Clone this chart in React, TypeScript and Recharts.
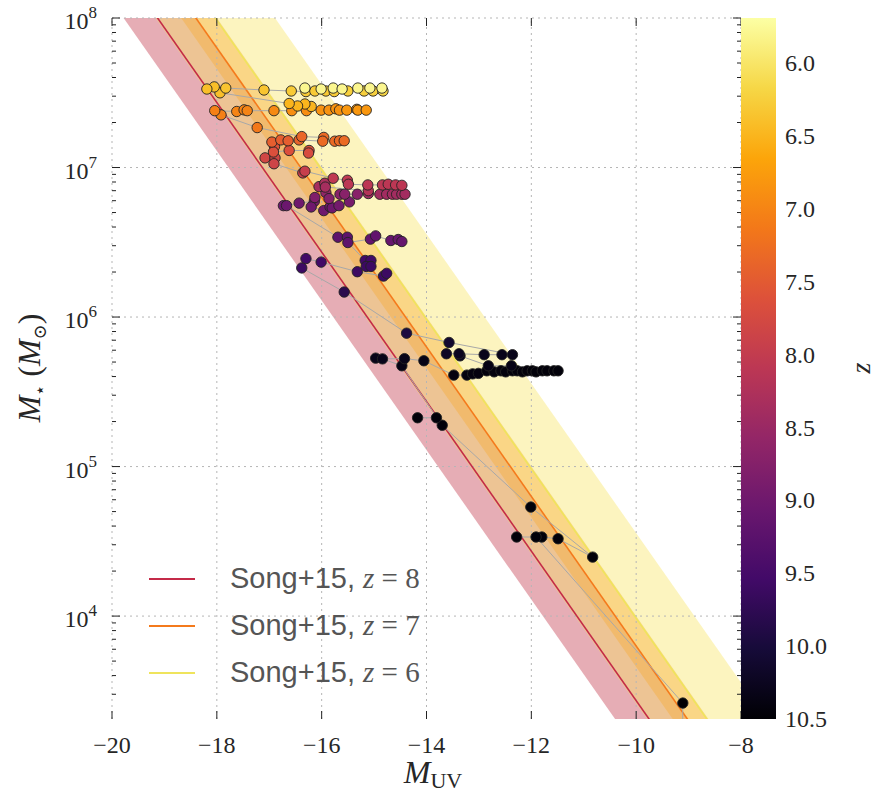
import React from 'react';
import { ComposedChart, XAxis, YAxis, Area, Line, Scatter, ReferenceLine, ReferenceArea, Legend, Label } from 'recharts';

const W = 878;
const H = 796;
const PL = 112;
const PR = 741;
const PT = 18;
const PB = 719;

const SERIF = '"Liberation Serif", "DejaVu Serif", serif';
const SANS = '"Liberation Sans", Arial, sans-serif';
const INK = '#262626';

const X_TICKS = [-20, -18, -16, -14, -12, -10, -8];
const Y_MIN = 2050;
const Y_MAX = 1e8;
const Y_DECADES = [1e3, 1e4, 1e5, 1e6, 1e7];
const Y_MULT = [1, 2, 3, 4, 5, 6, 7, 8, 9];
const Y_TICKS = [...Y_DECADES.flatMap((d) => Y_MULT.map((m) => m * d)), 1e8].filter((v) => v >= Y_MIN && v <= Y_MAX);
const Y_GRID = [1e4, 1e5, 1e6, 1e7, 1e8];

const Z_MIN = 5.69;
const Z_MAX = 10.5;
const Z_TICKS = [6.0, 6.5, 7.0, 7.5, 8.0, 8.5, 9.0, 9.5, 10.0, 10.5];

// inferno, dark -> light
const INFERNO = ['#000004', '#160b39', '#420a68', '#6a176e', '#932667', '#bc3754', '#dd513a', '#f37819', '#fca50a', '#f6d746', '#fcffa4'];

// Song+15 relations: edges read at M_UV = -20 and -8
const REL_X = [-20, -8];
const SONG8_LINE = [2.72e8, 272];
const SONG8_LO = [1.29e8, 129];
const SONG8_HI = [6.24e8, 624];
const SONG7_LINE = [6.31e8, 631];
const SONG7_LO = [4.57e8, 457];
const SONG7_HI = [1.0e9, 1.0e3];
const SONG6_LINE = [9.66e8, 966];
const SONG6_LO = [2.6e8, 260];
const SONG6_HI = [3.59e9, 3590];

// galaxy tracks: [M_UV, M*, z]
const TRACK_BLACK_TAIL = [[-9.11, 2.62e3, 10.5], [-9.12, 1.2e3, 10.5]];
const TRACK_BLACK_LOW = [[-12.01, 5.36e4, 10.45], [-10.83, 2.48e4, 10.45], [-11.49, 3.29e4, 10.45], [-11.8, 3.38e4, 10.45], [-11.91, 3.38e4, 10.45], [-12.28, 3.38e4, 10.45]];
const TRACK_BLACK_MID = [[-14.47, 4.72e5, 10.35], [-13.7, 1.89e5, 10.45], [-13.81, 2.12e5, 10.45], [-14.17, 2.12e5, 10.45]];
const TRACK_BLACK_ROW = [
  [-14.97, 5.31e5, 10.3], [-14.84, 5.25e5, 10.3], [-14.42, 5.27e5, 10.3], [-14.05, 5.1e5, 10.35], [-13.48, 4.09e5, 10.4],
  [-13.23, 4.09e5, 10.4], [-13.12, 4.17e5, 10.4], [-13.01, 4.2e5, 10.4], [-12.85, 4.37e5, 10.42], [-12.71, 4.3e5, 10.42],
  [-12.58, 4.37e5, 10.42], [-12.49, 4.3e5, 10.42], [-12.36, 4.37e5, 10.44], [-12.27, 4.37e5, 10.44], [-12.17, 4.3e5, 10.44],
  [-12.08, 4.37e5, 10.44], [-11.98, 4.37e5, 10.45], [-11.91, 4.3e5, 10.45], [-11.79, 4.37e5, 10.45], [-11.7, 4.37e5, 10.45],
  [-11.57, 4.37e5, 10.45], [-11.49, 4.37e5, 10.45],
];
const TRACK_BLACK_UP = [[-13.36, 5.5e5, 10.25], [-12.82, 4.72e5, 10.35], [-12.38, 4.72e5, 10.35]];
const TRACK_BLACK_TOP = [[-13.62, 5.68e5, 10.2], [-13.38, 5.68e5, 10.25], [-12.9, 5.6e5, 10.3], [-12.56, 5.6e5, 10.3]];
const TRACK_DARK = [[-16.38, 2.13e6, 9.6], [-15.57, 1.47e6, 9.8], [-14.38, 7.8e5, 9.95], [-13.57, 6.76e5, 10.1], [-12.36, 5.6e5, 10.3]];
const TRACK_INDIGO_A = [[-16.3, 2.46e6, 9.55], [-16.01, 2.33e6, 9.55], [-15.32, 2.01e6, 9.6], [-14.82, 1.88e6, 9.6], [-14.76, 1.96e6, 9.6]];
const TRACK_INDIGO_B = [[-15.17, 2.39e6, 9.55], [-15.06, 2.39e6, 9.55], [-15.15, 2.18e6, 9.6], [-15.06, 2.18e6, 9.6]];
const TRACK_VIOLET = [[-15.69, 3.42e6, 9.2], [-15.51, 3.42e6, 9.2], [-15.5, 3.15e6, 9.2], [-15.07, 3.32e6, 9.15], [-14.97, 3.49e6, 9.15], [-14.68, 3.25e6, 9.1], [-14.54, 3.3e6, 9.1], [-14.47, 3.2e6, 9.1]];
const TRACK_PURPLE = [[-16.73, 5.56e6, 9.05], [-16.67, 5.56e6, 9.05], [-16.43, 5.78e6, 9.0], [-16.14, 5.95e6, 8.9], [-16.2, 5.45e6, 9.0], [-15.96, 5.15e6, 9.0], [-15.84, 5.45e6, 9.0], [-15.8, 5.37e6, 9.0], [-15.67, 5.56e6, 8.95], [-15.47, 5.89e6, 8.9]];
const TRACK_MAGENTA = [
  [-16.13, 6.3e6, 8.8], [-15.92, 6.8e6, 8.6], [-15.86, 6.2e6, 8.75], [-15.65, 6.63e6, 8.7], [-15.56, 6.63e6, 8.7], [-15.32, 6.63e6, 8.7],
  [-15.11, 6.7e6, 8.45], [-14.89, 6.63e6, 8.4], [-14.76, 6.63e6, 8.4], [-14.65, 6.63e6, 8.4], [-14.57, 6.63e6, 8.4], [-14.47, 6.63e6, 8.4], [-14.41, 6.63e6, 8.4],
];
const TRACK_CRIMSON = [[-16.05, 7.45e6, 8.35], [-15.94, 7.85e6, 8.3], [-15.93, 7.4e6, 8.35], [-15.11, 7.0e6, 8.2]];
const TRACK_RED_B = [
  [-17.08, 1.16e7, 7.8], [-16.89, 1.16e7, 7.8], [-16.91, 1.06e7, 7.85], [-16.36, 9.2e6, 7.95], [-16.32, 9.45e6, 7.95], [-15.78, 8.48e6, 8.05],
  [-15.51, 8.22e6, 8.05], [-15.49, 7.73e6, 8.1], [-15.12, 7.65e6, 8.1], [-14.84, 7.65e6, 8.1], [-14.73, 7.73e6, 8.1], [-14.59, 7.65e6, 8.1], [-14.47, 7.6e6, 8.1],
];
const TRACK_RED_A = [[-16.9, 1.38e7, 7.6], [-16.92, 1.27e7, 7.65], [-16.62, 1.3e7, 7.65], [-16.24, 1.3e7, 7.65], [-16.25, 1.25e7, 7.7]];
const TRACK_ROW3_B = [[-16.95, 1.48e7, 7.45], [-16.78, 1.53e7, 7.45], [-16.64, 1.51e7, 7.45], [-16.43, 1.53e7, 7.4]];
const TRACK_ROW3_A = [[-16.38, 1.61e7, 7.35], [-15.96, 1.59e7, 7.3], [-15.98, 1.5e7, 7.3], [-15.75, 1.5e7, 7.3], [-15.66, 1.51e7, 7.3], [-15.57, 1.51e7, 7.3]];
const TRACK_ORANGE = [
  [-17.23, 1.85e7, 7.15], [-17.92, 2.25e7, 7.05], [-18.04, 2.4e7, 7.05], [-17.62, 2.37e7, 7.0], [-17.48, 2.43e7, 7.0], [-17.42, 2.4e7, 7.0],
  [-16.91, 2.4e7, 6.95], [-16.57, 2.4e7, 6.9], [-16.29, 2.4e7, 6.9], [-16.01, 2.42e7, 6.85], [-15.86, 2.42e7, 6.85], [-15.73, 2.47e7, 6.85],
  [-15.66, 2.42e7, 6.85], [-15.52, 2.42e7, 6.8], [-15.33, 2.45e7, 6.8], [-15.31, 2.42e7, 6.8], [-15.15, 2.42e7, 6.8],
];
const TRACK_GOLD = [
  [-16.2, 2.56e7, 6.5], [-16.32, 2.66e7, 6.5], [-16.46, 2.58e7, 6.5], [-16.62, 2.68e7, 6.5], [-17.94, 3.16e7, 6.4], [-18.05, 3.46e7, 6.4],
  [-18.19, 3.35e7, 6.4], [-17.83, 3.4e7, 6.35], [-17.1, 3.3e7, 6.35], [-16.58, 3.25e7, 6.3], [-16.3, 3.22e7, 6.3], [-16.13, 3.25e7, 6.3],
  [-15.92, 3.25e7, 6.3], [-15.76, 3.22e7, 6.3], [-15.5, 3.25e7, 6.25], [-15.19, 3.25e7, 6.25], [-15.02, 3.25e7, 6.25], [-14.83, 3.25e7, 6.2],
];
const TRACK_PALE = [[-16.32, 3.4e7, 5.8], [-16.01, 3.35e7, 5.8], [-15.78, 3.4e7, 5.8], [-15.61, 3.35e7, 5.8], [-15.31, 3.4e7, 5.8], [-15.08, 3.4e7, 5.8], [-14.85, 3.4e7, 5.8]];

// gray connectors between tracks: [M_UV, M*] pairs
const LINKS = [
  [[-16.67, 5.56e6], [-15.69, 3.42e6]],
  [[-15.5, 3.15e6], [-15.17, 2.39e6]],
  [[-14.84, 5.25e5], [-14.47, 4.72e5]],
  [[-13.38, 5.68e5], [-13.36, 5.5e5]],
  [[-13.7, 1.89e5], [-12.01, 5.36e4]],
  [[-11.91, 3.38e4], [-9.11, 2.62e3]],
  [[-17.23, 1.85e7], [-16.38, 1.61e7]],
  [[-16.43, 1.53e7], [-15.98, 1.5e7]],
];

const TRACKS = [
  TRACK_BLACK_TAIL, TRACK_BLACK_LOW, TRACK_BLACK_MID, TRACK_BLACK_ROW, TRACK_BLACK_UP, TRACK_BLACK_TOP, TRACK_DARK,
  TRACK_INDIGO_A, TRACK_INDIGO_B, TRACK_VIOLET, TRACK_PURPLE, TRACK_MAGENTA, TRACK_CRIMSON, TRACK_RED_B, TRACK_RED_A,
  TRACK_ROW3_B, TRACK_ROW3_A, TRACK_ORANGE, TRACK_GOLD, TRACK_PALE,
];

const SONG = [
  { z: 8, line: SONG8_LINE, lo: SONG8_LO, hi: SONG8_HI, color: '#c33c4f', stroke: '#c42a48' },
  { z: 7, line: SONG7_LINE, lo: SONG7_LO, hi: SONG7_HI, color: '#f68515', stroke: '#f47a1c' },
  { z: 6, line: SONG6_LINE, lo: SONG6_LO, hi: SONG6_HI, color: '#f8e567', stroke: '#efe45c' },
];

function hexRgb(h: string) {
  return [1, 3, 5].map((i) => parseInt(h.slice(i, i + 2), 16));
}

function zColor(z: number) {
  const t = Math.max(0, Math.min(1, (Z_MAX - z) / (Z_MAX - Z_MIN)));
  const p = t * (INFERNO.length - 1);
  const i = Math.min(INFERNO.length - 2, Math.floor(p));
  const f = p - i;
  const a = hexRgb(INFERNO[i]);
  const b = hexRgb(INFERNO[i + 1]);
  const c = a.map((v, k) => Math.round(v + (b[k] - v) * f));
  return `rgb(${c[0]},${c[1]},${c[2]})`;
}

const ALL_POINTS = TRACKS.flat().map(([x, y, red]) => ({ x, y, red }));

function XTick(props: any) {
  const x = props.x;
  const v = props.payload.value;
  return (
    <g>
      <line x1={x} x2={x} y1={PB} y2={PB - 8} stroke="#222" strokeWidth={1} />
      <line x1={x} x2={x} y1={PT} y2={PT + 8} stroke="#222" strokeWidth={1} />
      <text x={x} y={PB + 34} textAnchor="middle" fontFamily={SERIF} fontSize={24} fill={INK}>
        {v < 0 ? '\u2212' + Math.abs(v) : String(v)}
      </text>
    </g>
  );
}

function YTick(props: any) {
  const y = props.y;
  const v = props.payload.value;
  const lg = Math.log10(v);
  const e = Math.round(lg);
  const major = Math.abs(lg - e) < 1e-9;
  const len = major ? 8 : 4;
  return (
    <g>
      <line x1={PL} x2={PL + len} y1={y} y2={y} stroke="#222" strokeWidth={1} />
      <line x1={PR - len} x2={PR} y1={y} y2={y} stroke="#222" strokeWidth={1} />
      {major && (
        <text x={PL - 15} y={y + 11} textAnchor="end" fontFamily={SERIF} fontSize={24} fill={INK}>
          10<tspan dy={-11} fontSize={17}>{e}</tspan>
        </text>
      )}
    </g>
  );
}

function ZTick(props: any) {
  const y = props.y;
  return (
    <text x={44} y={y + 8} textAnchor="start" fontFamily={SERIF} fontSize={24} fill={INK}>
      {Number(props.payload.value).toFixed(1)}
    </text>
  );
}

function Dot(props: any) {
  if (props.cx == null || props.cy == null) return <g />;
  return <circle cx={props.cx} cy={props.cy} r={5.2} fill={zColor(props.payload.red)} stroke="#222" strokeWidth={0.9} />;
}

function SongLegend() {
  return (
    <div>
      {SONG.map((s) => (
        <div key={s.z} style={{ display: 'flex', alignItems: 'center', height: 47 }}>
          <div style={{ width: 46, height: 2, background: s.stroke }} />
          <div style={{ marginLeft: 35, fontFamily: SANS, fontSize: 29, color: '#555', whiteSpace: 'nowrap', lineHeight: '47px' }}>
            Song+15,{' '}
            <span style={{ fontFamily: SERIF, fontStyle: 'italic' }}>z</span>
            <span style={{ fontFamily: SERIF }}> = {s.z}</span>
          </div>
        </div>
      ))}
    </div>
  );
}

export default function App() {
  return (
    <div style={{ position: 'absolute', left: 0, top: 0, width: W, height: H, background: '#fff' }}>
      <ComposedChart width={W} height={H} margin={{ top: PT, right: W - PR, bottom: 17, left: 12 }}>
        <XAxis type="number" dataKey="x" domain={[-20, -8]} ticks={X_TICKS} interval={0} allowDataOverflow height={60} axisLine={false} tickLine={false} tick={XTick}>
          <Label
            content={() => (
              <text x={433} y={783} textAnchor="middle" fontFamily={SERIF} fontSize={32} fill={INK}>
                <tspan fontStyle="italic">M</tspan>
                <tspan fontSize={22} dy={5}>UV</tspan>
              </text>
            )}
          />
        </XAxis>
        <YAxis type="number" dataKey="y" scale="log" domain={[Y_MIN, Y_MAX]} ticks={Y_TICKS} interval={0} allowDataOverflow width={100} axisLine={false} tickLine={false} tick={YTick}>
          <Label
            content={() => (
              <text transform="translate(40,368) rotate(-90)" textAnchor="middle" fontFamily={SERIF} fontSize={32} fill={INK}>
                <tspan fontStyle="italic">M</tspan>
                <tspan fontSize={18} dy={6}>{'\u22c6'}</tspan>
                <tspan dy={-6}> (</tspan>
                <tspan fontStyle="italic">M</tspan>
                <tspan fontSize={18} dy={6}>{'\u2299'}</tspan>
                <tspan dy={-6}>)</tspan>
              </text>
            )}
          />
        </YAxis>

        {X_TICKS.map((v) => (
          <ReferenceLine key={'gx' + v} x={v} stroke="#b5b5b5" strokeDasharray="2 4" strokeWidth={1} />
        ))}
        {Y_GRID.map((v) => (
          <ReferenceLine key={'gy' + v} y={v} stroke="#b5b5b5" strokeDasharray="2 4" strokeWidth={1} />
        ))}

        {SONG.map((s) => (
          <Area
            key={'band' + s.z}
            data={REL_X.map((x, i) => ({ x, band: [s.lo[i], s.hi[i]] }))}
            dataKey="band"
            type="linear"
            stroke="none"
            fill={s.color}
            fillOpacity={0.42}
            isAnimationActive={false}
          />
        ))}
        {SONG.map((s) => (
          <Line
            key={'line' + s.z}
            data={REL_X.map((x, i) => ({ x, y: s.line[i] }))}
            dataKey="y"
            type="linear"
            stroke={s.stroke}
            strokeWidth={1.6}
            dot={false}
            isAnimationActive={false}
          />
        ))}

        {TRACKS.map((t, i) => (
          <Line
            key={'trk' + i}
            data={t.map(([x, y]) => ({ x, y }))}
            dataKey="y"
            type="linear"
            stroke="#a8a8a8"
            strokeWidth={1}
            dot={false}
            isAnimationActive={false}
          />
        ))}
        {LINKS.map((l, i) => (
          <Line
            key={'lnk' + i}
            data={l.map(([x, y]) => ({ x, y }))}
            dataKey="y"
            type="linear"
            stroke="#a8a8a8"
            strokeWidth={1}
            dot={false}
            isAnimationActive={false}
          />
        ))}

        <Scatter data={ALL_POINTS} shape={Dot} isAnimationActive={false} />

        <Legend layout="vertical" align="center" verticalAlign="middle" content={SongLegend} wrapperStyle={{ left: 149, top: 555, width: 320, height: 142 }} />
      </ComposedChart>

      <div style={{ position: 'absolute', left: PR, top: 0 }}>
        <ComposedChart width={W - PR} height={H} margin={{ top: PT, right: 42, bottom: H - PB, left: 0 }} data={[{ x: 0 }, { x: 1 }]}>
          <defs>
            <linearGradient id="zbar" x1="0" y1="0" x2="0" y2="1">
              {INFERNO.map((c, i) => (
                <stop key={c} offset={`${100 - (i / (INFERNO.length - 1)) * 100}%`} stopColor={c} />
              )).reverse()}
            </linearGradient>
          </defs>
          <XAxis type="number" dataKey="x" domain={[0, 1]} hide />
          <YAxis type="number" orientation="right" domain={[Z_MIN, Z_MAX]} reversed ticks={Z_TICKS} interval={0} allowDataOverflow width={60} axisLine={false} tickLine={false} tick={ZTick}>
            <Label
              content={() => (
                <text transform="translate(129,368) rotate(-90)" textAnchor="middle" fontFamily={SERIF} fontStyle="italic" fontSize={28} fill={INK}>
                  z
                </text>
              )}
            />
          </YAxis>
          <ReferenceArea x1={0} x2={1} y1={Z_MIN} y2={Z_MAX} fill="url(#zbar)" fillOpacity={1} stroke="none" />
        </ComposedChart>
      </div>
    </div>
  );
}
